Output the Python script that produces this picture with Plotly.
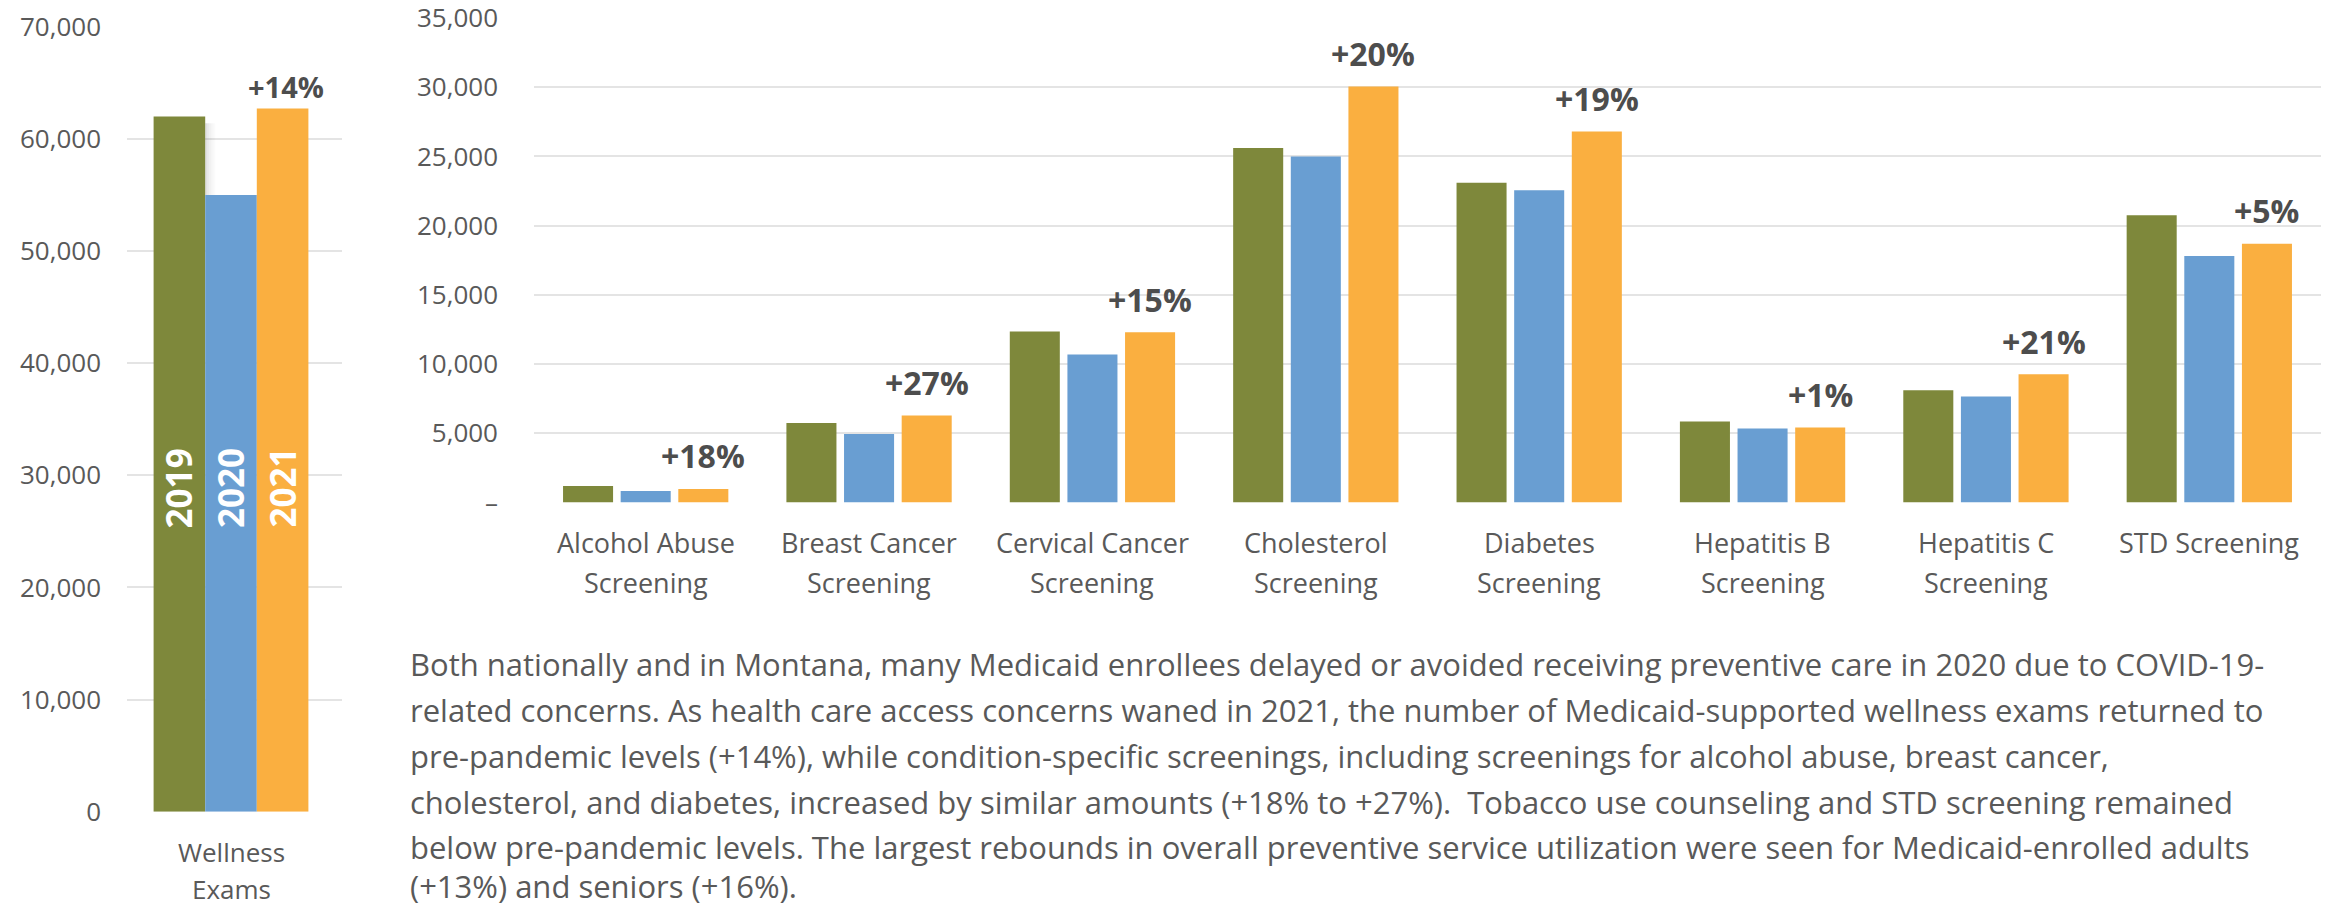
import plotly.graph_objects as go

# ---------------- data ----------------
years = ["2019", "2020", "2021"]
wellness_category = "Wellness<br>Exams"
wellness_values = [62000, 55000, 62700]
wellness_change = "+14%"

screen_categories = [
    "Alcohol Abuse<br>Screening",
    "Breast Cancer<br>Screening",
    "Cervical Cancer<br>Screening",
    "Cholesterol<br>Screening",
    "Diabetes<br>Screening",
    "Hepatitis B<br>Screening",
    "Hepatitis C<br>Screening",
    "STD Screening",
]
screen_2019 = [1190, 5750, 12350, 25600, 23100, 5850, 8100, 20750]
screen_2020 = [830, 4950, 10700, 25000, 22550, 5350, 7650, 17800]
screen_2021 = [980, 6280, 12300, 30050, 26800, 5420, 9260, 18700]
screen_change = ["+18%", "+27%", "+15%", "+20%", "+19%", "+1%", "+21%", "+5%"]

left_ticks = [0, 10000, 20000, 30000, 40000, 50000, 60000, 70000]
right_ticks = [0, 5000, 10000, 15000, 20000, 25000, 30000, 35000]
right_ticktext = ["–", "5,000", "10,000", "15,000", "20,000", "25,000", "30,000", "35,000"]

paragraph_lines = [
    "Both nationally and in Montana, many Medicaid enrollees delayed or avoided receiving preventive care in 2020 due to COVID-19-",
    "related concerns. As health care access concerns waned in 2021, the number of Medicaid-supported wellness exams returned to",
    "pre-pandemic levels (+14%), while condition-specific screenings, including screenings for alcohol abuse, breast cancer,",
    "cholesterol, and diabetes, increased by similar amounts (+18% to +27%).&nbsp; Tobacco use counseling and STD screening remained",
    "below pre-pandemic levels. The largest rebounds in overall preventive service utilization were seen for Medicaid-enrolled adults",
    "(+13%) and seniors (+16%).",
]

# ---------------- style ----------------
W, H = 2328, 908
COLORS = ["#7E883B", "#699ED2", "#FAAF40"]
TEXT = "#595959"
LABEL = "#4D4D4D"
GRID = "#E4E4E4"
FONT = "Open Sans, Noto Sans, sans-serif"
BOLD_FONT = "Open Sans, Noto Sans, sans-serif"
PARA_Y = [664, 710, 756, 802, 847, 886]


def px(x):
    return x / W


def py(y):
    return 1 - y / H


fig = go.Figure()

# left chart bars (contiguous)
lw = 0.24
l_centers = [-lw, 0.0, lw]
for k, yr in enumerate(years):
    fig.add_trace(go.Bar(
        x=[0], y=[wellness_values[k]], name=yr,
        marker=dict(color=COLORS[k], line=dict(width=0)),
        width=lw, offset=l_centers[k] - lw / 2,
        xaxis="x", yaxis="y", showlegend=False, hoverinfo="skip",
    ))

# right chart bars
rw = 0.224
rstep = 0.258
r_centers = [-rstep, 0.0, rstep]
series = [screen_2019, screen_2020, screen_2021]
xs = list(range(len(screen_categories)))
for k, yr in enumerate(years):
    fig.add_trace(go.Bar(
        x=xs, y=series[k], name=yr,
        marker=dict(color=COLORS[k], line=dict(width=0)),
        width=rw, offset=r_centers[k] - rw / 2,
        xaxis="x2", yaxis="y2", showlegend=False, hoverinfo="skip",
    ))

# soft shadow to the right of the 2019 wellness bar (above the 2020 bar)
shapes = []
edge = l_centers[0] + lw / 2
for s, op in enumerate([0.16, 0.11, 0.07, 0.04, 0.02]):
    shapes.append(dict(
        type="rect", xref="x", yref="y", xsizemode="pixel", xanchor=edge,
        x0=2 * s, x1=2 * s + 2,
        y0=wellness_values[1], y1=wellness_values[0] - 600,
        fillcolor="rgba(60,60,60,%.3f)" % op, line=dict(width=0), layer="above",
    ))

annotations = []

# year labels inside left bars
for k, yr in enumerate(years):
    annotations.append(dict(
        x=l_centers[k], y=py(488), xref="x", yref="paper",
        text="<b>%s</b>" % yr, showarrow=False, textangle=-90,
        font=dict(family=BOLD_FONT, size=35, color="white"),
        xanchor="center", yanchor="middle",
    ))

# left change label
annotations.append(dict(
    x=l_centers[2], y=wellness_values[2], xref="x", yref="y",
    text="<b>%s</b>" % wellness_change, showarrow=False, yshift=22, xshift=3,
    font=dict(family=BOLD_FONT, size=29, color=LABEL),
    xanchor="center", yanchor="middle",
))

# left category label
for j, line in enumerate(wellness_category.split("<br>")):
    annotations.append(dict(
        x=0, y=py(852 + 37 * j), xref="x", yref="paper",
        text=line, showarrow=False, borderpad=0,
        font=dict(family=FONT, size=26, color=TEXT),
        xanchor="center", yanchor="middle",
    ))

# right change labels
for i, lab in enumerate(screen_change):
    annotations.append(dict(
        x=i + r_centers[2], y=screen_2021[i], xref="x2", yref="y2",
        text="<b>%s</b>" % lab, showarrow=False, yshift=33,
        font=dict(family=BOLD_FONT, size=32, color=LABEL),
        xanchor="center", yanchor="middle",
    ))

# right category labels
for i, cat in enumerate(screen_categories):
    for j, line in enumerate(cat.split("<br>")):
        annotations.append(dict(
            x=i, y=py(542.7 + 40 * j), xref="x2", yref="paper",
            text=line, showarrow=False,
            font=dict(family=FONT, size=27, color=TEXT),
            xanchor="center", yanchor="middle",
        ))

# paragraph
for j, line in enumerate(paragraph_lines):
    annotations.append(dict(
        x=px(409), y=py(PARA_Y[j]), xref="paper", yref="paper",
        text=line, showarrow=False, borderpad=0,
        font=dict(family=FONT, size=31, color=TEXT),
        xanchor="left", yanchor="middle",
    ))

fig.update_layout(
    width=W, height=H,
    margin=dict(l=0, r=0, t=0, b=0, autoexpand=False),
    paper_bgcolor="white", plot_bgcolor="white",
    barmode="overlay",
    showlegend=False,
    annotations=annotations,
    shapes=shapes,
    xaxis=dict(
        domain=[px(127), px(342)], range=[-0.4837, 0.5163],
        showgrid=False, zeroline=False, showticklabels=False, showline=False,
        fixedrange=True, automargin=False,
    ),
    yaxis=dict(
        domain=[py(811.7), py(26.7)], range=[0, 70000],
        tickvals=left_ticks, ticktext=["{:,}".format(v) for v in left_ticks],
        showgrid=True, gridcolor=GRID, gridwidth=2, zeroline=False, showline=False,
        ticks="", ticklabelstandoff=25, ticklabeloverflow="allow",
        tickfont=dict(family=FONT, size=26, color=TEXT),
        fixedrange=True, automargin=False,
    ),
    xaxis2=dict(
        domain=[px(534), px(2321)], range=[-0.5, 7.5],
        showgrid=False, zeroline=False, showticklabels=False, showline=False,
        anchor="y2", fixedrange=True, automargin=False,
    ),
    yaxis2=dict(
        domain=[py(502.5), py(18)], range=[0, 35000],
        tickvals=right_ticks, ticktext=right_ticktext,
        showgrid=True, gridcolor=GRID, gridwidth=2, zeroline=False, showline=False,
        ticks="", ticklabelstandoff=35, ticklabeloverflow="allow",
        tickfont=dict(family=FONT, size=26, color=TEXT),
        anchor="x2", fixedrange=True, automargin=False,
    ),
)

fig.write_html("out.html")
